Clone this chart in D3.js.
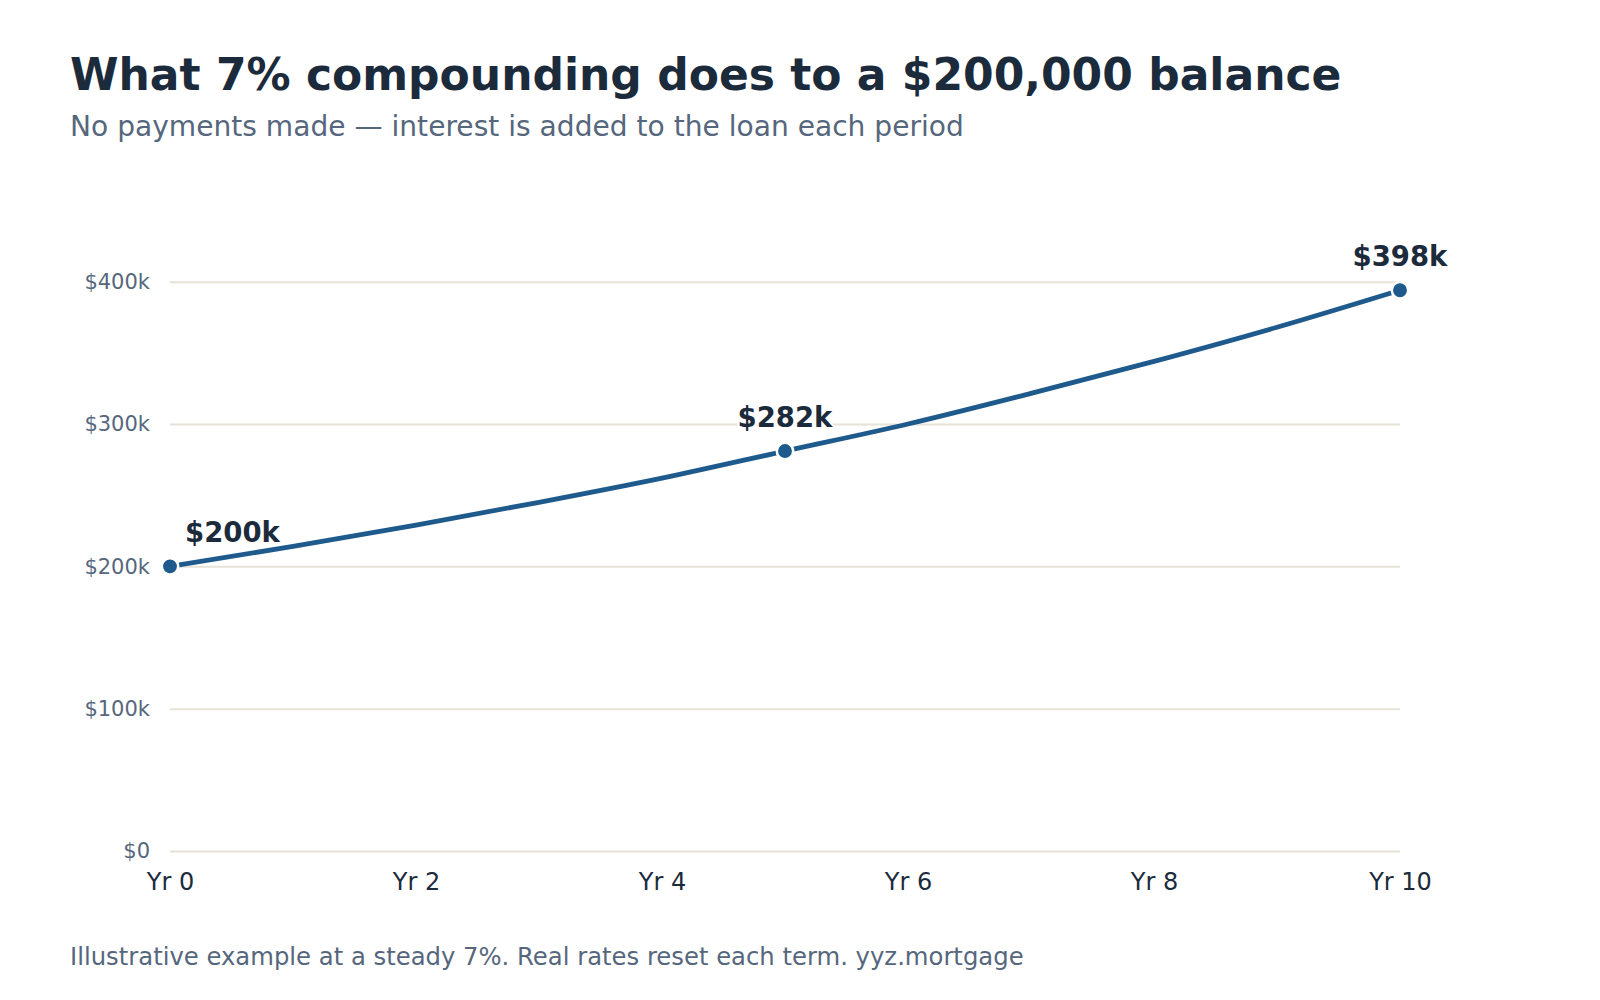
<!DOCTYPE html>
<html>
<head>
<meta charset="utf-8">
<script src="https://cdn.jsdelivr.net/npm/d3@7"></script>
<style>
  body { margin: 0; background: #fff; }
  svg { display: block; font-family: "DejaVu Sans", sans-serif; }
</style>
</head>
<body>
<script>
// data
const years = [0, 1, 2, 3, 4, 5, 6, 7, 8, 9, 10];
const balances = [200000, 214000, 229000, 245000, 262000, 281000, 300000, 321500, 344000, 368000, 394000];
const xTicks = [0, 2, 4, 6, 8, 10];
const yTicks = [0, 100000, 200000, 300000, 400000];
const markerYears = [0, 5, 10];
const markerLabels = ["$200k", "$282k", "$398k"];

const width = 1600, height = 1000;
const svg = d3.select("body").append("svg")
  .attr("width", width)
  .attr("height", height);

const x = d3.scaleLinear().domain([0, 10]).range([170, 1400]);
const y = d3.scaleLinear().domain([0, 400000]).range([851, 281.7]);

// titles
svg.append("text")
  .attr("x", 70).attr("y", 90)
  .style("font-size", "44px").style("font-weight", "bold")
  .style("fill", "#1b2b3c")
  .text("What 7% compounding does to a $200,000 balance");

svg.append("text")
  .attr("x", 70).attr("y", 136)
  .style("font-size", "28.1px")
  .style("fill", "#56677d")
  .text("No payments made \u2014 interest is added to the loan each period");

// grid + y labels
const yAxis = svg.append("g")
  .attr("transform", "translate(170,0)")
  .call(d3.axisLeft(y).tickValues(yTicks)
    .tickSize(-(1400 - 170))
    .tickPadding(20)
    .tickFormat(d => d === 0 ? "$0" : "$" + d / 1000 + "k"));
yAxis.select(".domain").remove();
yAxis.selectAll(".tick line").style("stroke", "#e6e2d8").style("stroke-width", 2);
yAxis.selectAll(".tick text")
  .style("font-size", "21px").style("fill", "#56677d")
  .style("font-family", "DejaVu Sans, sans-serif");

// x labels
const xAxis = svg.append("g")
  .attr("transform", "translate(0,851)")
  .call(d3.axisBottom(x).tickValues(xTicks).tickSize(0).tickPadding(22)
    .tickFormat(d => "Yr " + d));
xAxis.select(".domain").remove();
xAxis.selectAll(".tick text")
  .style("font-size", "24px").style("fill", "#1b2b3c")
  .style("font-family", "DejaVu Sans, sans-serif");

// line
const pts = years.map((yr, i) => ({ yr, v: balances[i] }));
svg.append("path")
  .datum(pts)
  .attr("fill", "none")
  .attr("stroke", "#1f5a8c")
  .attr("stroke-width", 4.8)
  .attr("stroke-linecap", "round")
  .attr("d", d3.line().x(d => x(d.yr)).y(d => y(d.v)).curve(d3.curveMonotoneX));

// markers
const marks = markerYears.map((yr, i) => ({ yr, v: balances[years.indexOf(yr)], label: markerLabels[i] }));
svg.selectAll(".dot")
  .data(marks)
  .enter().append("circle")
  .attr("class", "dot")
  .attr("cx", d => x(d.yr))
  .attr("cy", d => y(d.v))
  .attr("r", 8.2)
  .attr("fill", "#1f5a8c")
  .attr("stroke", "#fff")
  .attr("stroke-width", 2.5);

svg.selectAll(".lbl")
  .data(marks)
  .enter().append("text")
  .attr("class", "lbl")
  .attr("x", (d, i) => i === 0 ? x(d.yr) + 15 : x(d.yr))
  .attr("y", d => y(d.v) - 24)
  .attr("text-anchor", (d, i) => i === 0 ? "start" : "middle")
  .style("font-size", "27.5px").style("font-weight", "bold")
  .style("fill", "#1b2b3c")
  .style("paint-order", "stroke")
  .style("stroke", "#fff").style("stroke-width", 4)
  .text(d => d.label);

// footnote
svg.append("text")
  .attr("x", 70).attr("y", 965)
  .style("font-size", "24.3px")
  .style("fill", "#56677d")
  .text("Illustrative example at a steady 7%. Real rates reset each term. yyz.mortgage");
</script>
</body>
</html>
